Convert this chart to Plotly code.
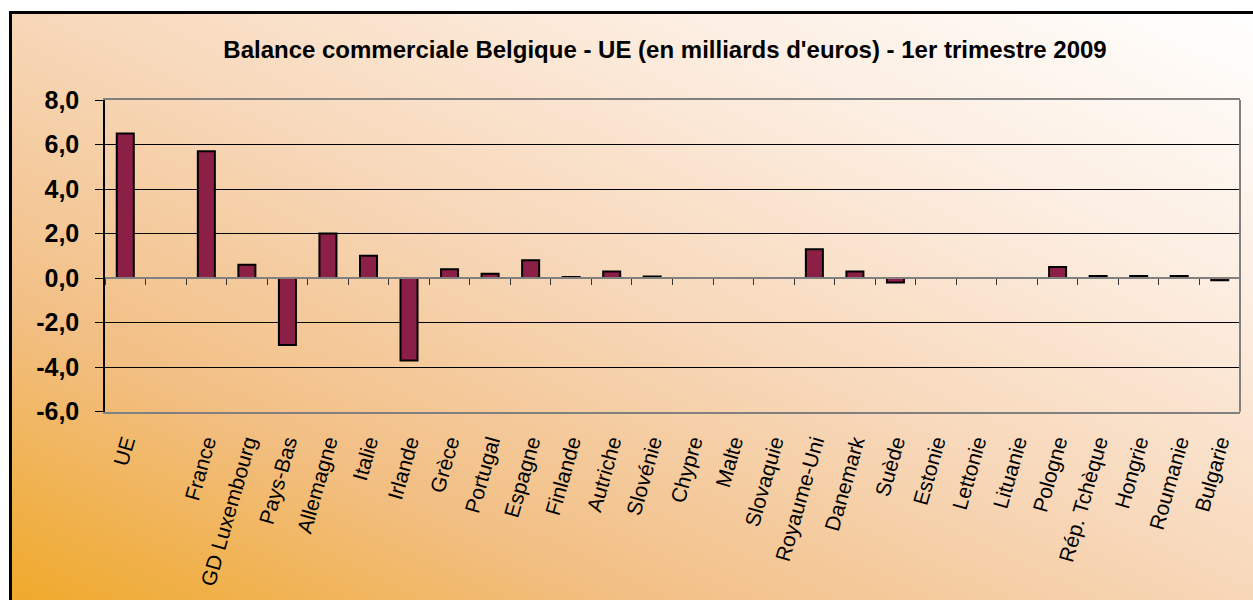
import base64
import plotly.graph_objects as go

# ---- data ----
categories = ["UE", " ", "France", "GD Luxembourg", "Pays-Bas", "Allemagne", "Italie",
              "Irlande", "Grèce", "Portugal", "Espagne", "Finlande", "Autriche", "Slovénie",
              "Chypre", "Malte", "Slovaquie", "Royaume-Uni", "Danemark", "Suède", "Estonie",
              "Lettonie", "Lituanie", "Pologne", "Rép. Tchèque", "Hongrie", "Roumanie", "Bulgarie"]
values = [6.5, None, 5.7, 0.6, -3.0, 2.0, 1.0,
          -3.7, 0.4, 0.2, 0.8, 0.05, 0.3, 0.07,
          None, None, None, 1.3, 0.3, -0.2, None,
          None, None, 0.5, 0.1, 0.1, 0.1, -0.1]
y_ticks = [-6, -4, -2, 0, 2, 4, 6, 8]
y_tick_labels = ["-6,0", "-4,0", "-2,0", "0,0", "2,0", "4,0", "6,0", "8,0"]
title_text = "Balance commerciale Belgique - UE (en milliards d'euros) - 1er trimestre 2009"

W, H = 1253, 600
FONT = "Liberation Sans, Arial, sans-serif"

# plot area in pixels
px_l, px_r, px_t, px_b = 105, 1240, 100, 411.7
xdom = [px_l / W, px_r / W]
ydom = [1 - px_b / H, 1 - px_t / H]
ymin, ymax = -6, 8
zero_pos = ydom[0] + (0 - ymin) / (ymax - ymin) * (ydom[1] - ydom[0])

# gradient background (svg)
svg = """<svg xmlns='http://www.w3.org/2000/svg' width='1243' height='588' viewBox='0 0 100 100' preserveAspectRatio='none'>
<defs><linearGradient id='g' x1='0' y1='1' x2='1' y2='0'>
<stop offset='0' stop-color='#EFA92A'/>
<stop offset='0.25' stop-color='#F2BF84'/>
<stop offset='0.5' stop-color='#F7D7B8'/>
<stop offset='0.75' stop-color='#FCEDE0'/>
<stop offset='1' stop-color='#FFFFFF'/>
</linearGradient></defs>
<rect x='0' y='0' width='100' height='100' fill='url(#g)'/>
</svg>"""
src = "data:image/svg+xml;base64," + base64.b64encode(svg.encode()).decode()

fig = go.Figure()
fig.add_trace(go.Bar(
    x=categories, y=values,
    marker=dict(color="#8C1F46", line=dict(color="black", width=2)),
    width=0.42, showlegend=False, hoverinfo="x+y",
))
# helper trace to carry the zero-line category axis
fig.add_trace(go.Scatter(x=categories, y=[None] * len(categories), xaxis="x2",
                         mode="markers", showlegend=False, hoverinfo="skip"))

fig.update_layout(
    width=W, height=H,
    margin=dict(l=0, r=0, t=0, b=0, pad=0),
    paper_bgcolor="white",
    plot_bgcolor="white",
    separators=", ",
    font=dict(family=FONT, color="black"),
    title=dict(text=title_text, x=665 / W, xanchor="center", y=1 - 50 / H, yanchor="middle",
               font=dict(family=FONT, size=24, weight="bold", color="black")),
    xaxis=dict(domain=xdom, type="category", categoryorder="array", categoryarray=categories,
               range=[-0.5, len(categories) - 0.5], automargin=False,
               showline=True, linecolor="#808080", linewidth=2, mirror=True,
               ticks="", showgrid=False, tickangle=-74,
               tickfont=dict(family=FONT, size=21, color="black"),
               ticklabelstandoff=8),
    xaxis2=dict(overlaying="x", anchor="free", position=zero_pos, type="category",
                categoryorder="array", categoryarray=categories, automargin=False,
                range=[-0.5, len(categories) - 0.5], tickson="boundaries",
                ticks="outside", ticklen=6, tickcolor="#333333", tickwidth=1,
                showticklabels=False, showline=True, linecolor="#808080", linewidth=2,
                showgrid=False, zeroline=False),
    yaxis=dict(domain=ydom, range=[ymin, ymax], tickvals=y_ticks, ticktext=y_tick_labels,
               automargin=False,
               showline=True, linecolor="black", linewidth=1.5,
               ticks="outside", ticklen=8, tickcolor="black", tickwidth=1,
               showgrid=True, gridcolor="black", gridwidth=1, zeroline=False,
               tickfont=dict(family=FONT, size=25, weight="bold", color="black"),
               ticklabelstandoff=11),
    bargap=0.58,
    images=[dict(source=src, xref="paper", yref="paper", x=10 / W, y=1 - 12 / H,
                 sizex=1 - 10 / W, sizey=1 - 12 / H, xanchor="left", yanchor="top",
                 sizing="stretch", layer="below")],
    shapes=[
        dict(type="line", xref="x domain", yref="y domain", x0=1, x1=1, y0=0, y1=1,
             line=dict(color="#808080", width=2)),
        dict(type="rect", xref="paper", yref="paper", x0=10.5 / W, x1=1.02, y0=-0.02,
             y1=1 - 12.5 / H, line=dict(color="black", width=3), layer="above"),
    ],
)

fig.write_html("out.html", config={"displayModeBar": False},
               post_script="document.body.style.margin='0px';document.body.style.overflow='hidden';")
